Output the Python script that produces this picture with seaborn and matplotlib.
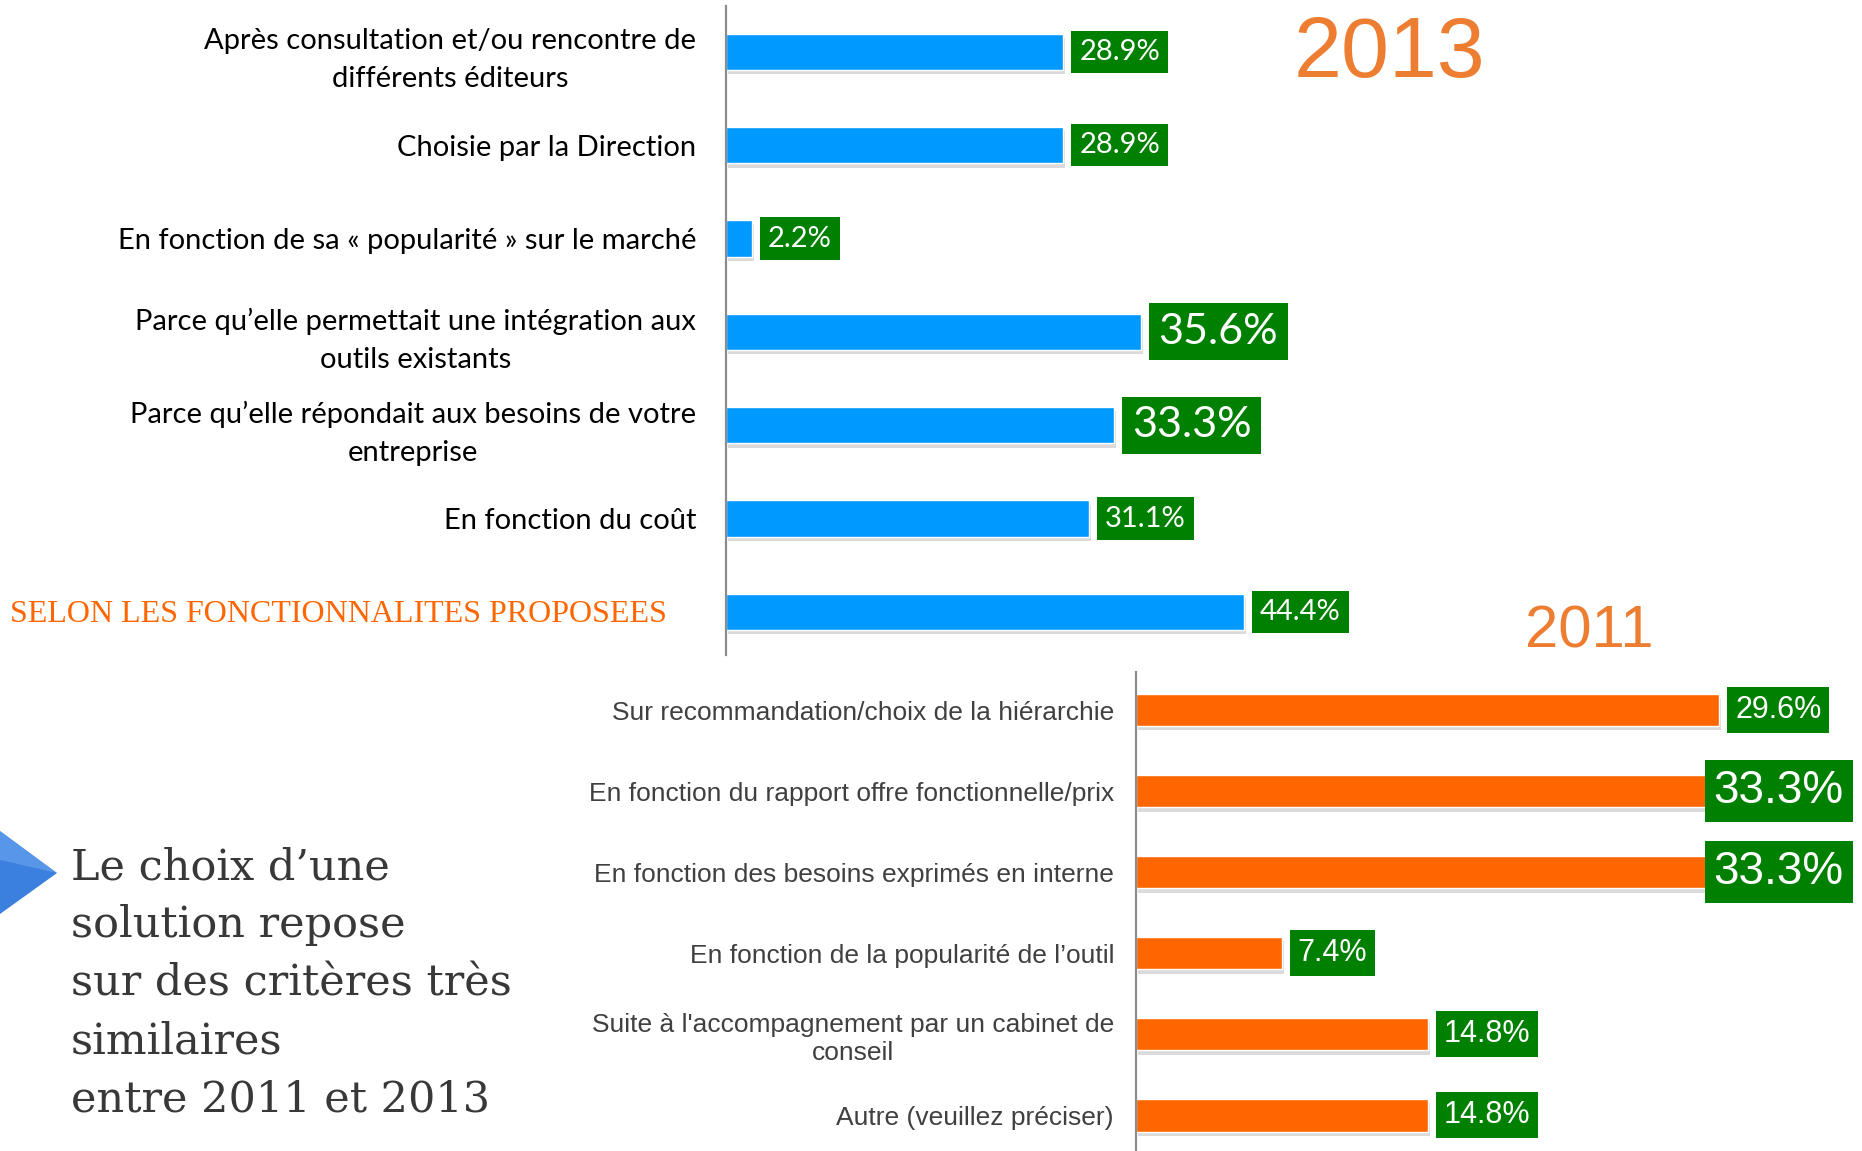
import matplotlib
matplotlib.use("Agg")
import matplotlib.pyplot as plt
import matplotlib.patheffects as pe
from matplotlib import font_manager
from matplotlib.patches import Polygon
import seaborn as sns
import pandas as pd

# ---------------------------------------------------------------
# data
# ---------------------------------------------------------------
labels_2013 = [
    "Après consultation et/ou rencontre de\ndifférents éditeurs",
    "Choisie par la Direction",
    "En fonction de sa « popularité » sur le marché",
    "Parce qu’elle permettait une intégration aux\noutils existants",
    "Parce qu’elle répondait aux besoins de votre\nentreprise",
    "En fonction du coût",
    "SELON LES FONCTIONNALITES PROPOSEES",
]
values_2013 = [28.9, 28.9, 2.2, 35.6, 33.3, 31.1, 44.4]

labels_2011 = [
    "Sur recommandation/choix de la hiérarchie",
    "En fonction du rapport offre fonctionnelle/prix",
    "En fonction des besoins exprimés en interne",
    "En fonction de la popularité de l’outil",
    "Suite à l'accompagnement par un cabinet de\nconseil",
    "Autre (veuillez préciser)",
]
values_2011 = [29.6, 33.3, 33.3, 7.4, 14.8, 14.8]

summary_lines = [
    "Le choix d’une",
    "solution repose",
    "sur des critères très",
    "similaires",
    "entre 2011 et 2013",
]

# label emphasis (style only)
big_2013 = [False, False, False, True, True, False, False]
big_2011 = [False, True, True, False, False, False]

# ---------------------------------------------------------------
# style
# ---------------------------------------------------------------
sns.set_style("white")
plt.rcParams["font.family"] = ["DejaVu Sans"]

names = set(font_manager.get_font_names())
calibri_like = "Lato" if "Lato" in names else "DejaVu Sans"
arial_like = "Liberation Sans" if "Liberation Sans" in names else "DejaVu Sans"
slab_narrow = "DejaVu Serif Condensed" if "DejaVu Serif Condensed" in names else "Liberation Serif"

BLUE = "#0099FF"
ORANGE = "#FF6600"
GREEN = "#008000"
YEAR = "#ED7D31"
DPI = 100
W, H = 1862, 1151

fig = plt.figure(figsize=(W / DPI, H / DPI), dpi=DPI)

shadow = [pe.SimplePatchShadow(offset=(1.5, -3), shadow_rgbFace="#888888", alpha=0.3), pe.Normal()]


def px2pt(p):
    return p * 72.0 / DPI


# ---------------------------------------------------------------
# 2013 chart
# ---------------------------------------------------------------
ax1 = fig.add_axes([726 / W, 1 - 655 / H, (W - 726) / W, 649 / H])
df13 = pd.DataFrame({"label": labels_2013, "value": values_2013})
sns.barplot(data=df13, x="value", y="label", ax=ax1, color=BLUE,
            saturation=1, width=0.39, orient="h")
ax1.set_xlim(0, 1136 / 11.66)
ax1.set_ylim(6.46, -0.49)
ax1.set_xlabel("")
ax1.set_ylabel("")
ax1.set_xticks([])
for p in ax1.patches:
    p.set_path_effects(shadow)

ax1.tick_params(axis="y", length=0, pad=px2pt(30))
tick_text = list(labels_2013[:-1]) + [""]
ax1.set_yticks(range(len(labels_2013)))
ax1.set_yticklabels(tick_text, fontsize=21, family=calibri_like, color="black")
for t in ax1.get_yticklabels():
    t.set_multialignment("center")
    t.set_linespacing(1.55)

for i, (v, big) in enumerate(zip(values_2013, big_2013)):
    fs = 31 if big else 21
    pad = 0.22 if big else 0.28
    off = px2pt(8) + pad * fs
    ax1.annotate(f"{v:.1f}%", xy=(v, i), xytext=(off, 0), textcoords="offset points",
                 ha="left", va="center", fontsize=fs, family=calibri_like, color="white",
                 bbox=dict(boxstyle=f"square,pad={pad}", fc=GREEN, ec="none"))

# highlighted last criterion, drawn in the left margin
fig.text(10 / W, 1 - 614 / H, labels_2013[-1], ha="left", va="center",
         fontsize=23, family=slab_narrow, color=ORANGE)

# ---------------------------------------------------------------
# 2011 chart
# ---------------------------------------------------------------
ax2 = fig.add_axes([1136 / W, 0, (W - 1136) / W, 479 / H])
df11 = pd.DataFrame({"label": labels_2011, "value": values_2011})
sns.barplot(data=df11, x="value", y="label", ax=ax2, color=ORANGE,
            saturation=1, width=0.40, orient="h")
ax2.set_xlim(0, 726 / 19.7)
ax2.set_ylim(5.44, -0.47)
ax2.set_xlabel("")
ax2.set_ylabel("")
ax2.set_xticks([])
for p in ax2.patches:
    p.set_path_effects(shadow)

ax2.tick_params(axis="y", length=0, pad=px2pt(22))
ax2.set_yticks(range(len(labels_2011)))
ax2.set_yticklabels(labels_2011, fontsize=19, family=arial_like, color="#404040")
for t in ax2.get_yticklabels():
    t.set_multialignment("center")

for i, (v, big) in enumerate(zip(values_2011, big_2011)):
    if big:
        ax2.text(0.975, i, f"{v:.1f}%", transform=ax2.get_yaxis_transform(),
                 ha="right", va="center", fontsize=33, family=arial_like, color="white",
                 bbox=dict(boxstyle="square,pad=0.2", fc=GREEN, ec="none"))
    else:
        off = px2pt(8) + 0.26 * 22
        ax2.annotate(f"{v:.1f}%", xy=(v, i), xytext=(off, 0), textcoords="offset points",
                     ha="left", va="center", fontsize=22, family=arial_like, color="white",
                     bbox=dict(boxstyle="square,pad=0.26", fc=GREEN, ec="none"))

for ax in (ax1, ax2):
    for s in ("top", "right", "bottom"):
        ax.spines[s].set_visible(False)
    ax.spines["left"].set_color("#8c8c8c")
    ax.spines["left"].set_linewidth(1.6)
    ax.patch.set_alpha(0)

# ---------------------------------------------------------------
# years, summary text, arrow
# ---------------------------------------------------------------
fig.text(1389 / W, 1 - 55 / H, "2013", ha="center", va="center",
         fontsize=62, family=arial_like, color=YEAR)
fig.text(1589 / W, 1 - 632 / H, "2011", ha="center", va="center",
         fontsize=43, family=arial_like, color=YEAR)

for k, line in enumerate(summary_lines):
    fig.text(71 / W, 1 - (867 + 58 * k) / H, line, ha="left", va="center",
             fontsize=31, family="DejaVu Serif", color="#383838")

fig.patches.append(Polygon([(0, 1 - 831 / H), (57 / W, 1 - 873 / H), (0, 1 - 914 / H)],
                           closed=True, transform=fig.transFigure, fc="#3b80de", ec="none"))
fig.patches.append(Polygon([(0, 1 - 831 / H), (57 / W, 1 - 873 / H), (0, 1 - 860 / H)],
                           closed=True, transform=fig.transFigure, fc="#6aa6f0", ec="none", alpha=0.6))

fig.savefig("out.png", dpi=DPI, facecolor="white")
